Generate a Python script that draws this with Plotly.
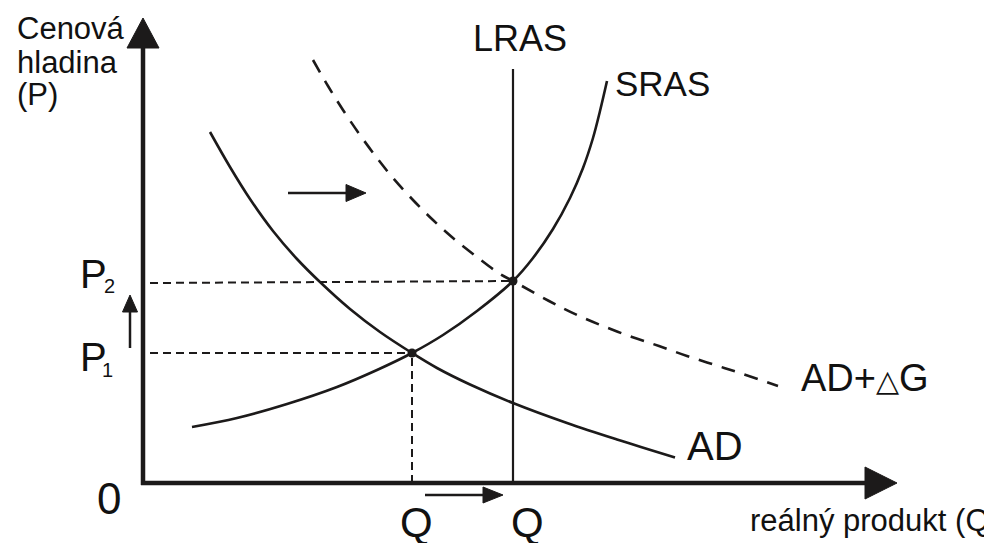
import plotly.graph_objects as go

# ---- data (chart units, origin at the axes' corner) ----
sras_x = [49, 94, 144, 194, 234, 269, 300, 334, 370, 390, 410, 427, 440, 450, 457, 464]
sras_y = [56, 65, 79, 96, 113, 130, 148, 172, 202, 225, 254, 285, 315, 345, 372, 402]

ad_x = [67, 87, 107, 130, 154, 177, 207, 237, 269, 294, 327, 370, 424, 474, 532]
ad_y = [351, 316, 284, 252, 224, 201, 174, 151, 130, 115, 98.5, 80, 60, 43.5, 25.5]

adg_x = [170, 185, 200, 217, 234, 250, 270, 290, 310, 334, 357, 370, 406, 434, 460, 489, 516, 544, 572, 600, 635]
adg_y = [423, 397, 373, 348, 325, 305, 283, 263, 245, 226, 209, 202, 182, 168, 157, 146, 137, 127, 118, 109, 97]

eq_x = [269, 370]   # Q1, Q2
eq_y = [130, 202]   # P1, P2
lras_top = 414
x_axis_end = 754
y_axis_end = 465

FONT = "Liberation Sans, Arial, sans-serif"
INK = "#1c1a1a"

fig = go.Figure()

def line(xs, ys, width=2.5, dash=None, shape="linear"):
    fig.add_trace(go.Scatter(x=xs, y=ys, mode="lines",
                             line=dict(color=INK, width=width, dash=dash, shape=shape,
                                       smoothing=1.0),
                             hoverinfo="skip", showlegend=False))

def tri(xs, ys):
    fig.add_trace(go.Scatter(x=xs + [xs[0]], y=ys + [ys[0]], mode="lines", fill="toself",
                             fillcolor=INK, line=dict(color=INK, width=1),
                             hoverinfo="skip", showlegend=False))

def arrow_h(x0, x1, y, head=20, half=8, width=2.5):
    line([x0, x1 - head + 2], [y, y], width=width)
    tri([x1, x1 - head, x1 - head], [y, y + half, y - half])

def arrow_v(x, y0, y1, head=18, half=7.5, width=2.5):
    line([x, x], [y0, y1 - head + 2], width=width)
    tri([x, x - half, x + half], [y1, y1 - head, y1 - head])

# axes
arrow_v(0, -2, y_axis_end, head=30, half=16, width=4.5)
arrow_h(-2, x_axis_end, 0, head=32, half=16, width=4.5)

# guide lines
line([7, eq_x[1]], [eq_y[1] - 2, eq_y[1]], width=2, dash="8px,5px")
line([7, eq_x[0]], [eq_y[0], eq_y[0]], width=2, dash="8px,5px")
line([eq_x[0], eq_x[0]], [0, eq_y[0]], width=2, dash="8px,5px")

# LRAS
line([eq_x[1], eq_x[1]], [0, lras_top], width=2.2)

# curves
line(sras_x, sras_y, width=2.6, shape="spline")
line(ad_x, ad_y, width=2.6, shape="spline")
line(adg_x, adg_y, width=2.6, dash="14px,10px", shape="spline")

# equilibrium dots
fig.add_trace(go.Scatter(x=eq_x, y=eq_y, mode="markers",
                         marker=dict(color=INK, size=9), hoverinfo="skip", showlegend=False))

# shift arrows
arrow_h(145, 223, 290, head=20, half=8.5)
arrow_v(-13, 135, 188, head=17, half=7.5)
arrow_h(282, 360, -12, head=20, half=8)

def text(x, y, s, size, xanchor="center", yanchor="middle"):
    fig.add_annotation(x=x, y=y, xref="x", yref="y", text=s, showarrow=False,
                       xanchor=xanchor, yanchor=yanchor, borderpad=0,
                       font=dict(family=FONT, size=size, color="#111"))

text(-127, 455, "Cenová", 31, xanchor="left")
text(-127, 421, "hladina", 31, xanchor="left")
text(-127, 389, "(P)", 31, xanchor="left")

text(377, 445, "LRAS", 36)
text(519, 400, "SRAS", 35)
text(572, 37, "AD", 40)
text(657, 105, "AD+<span style='font-size:30px'>△</span>G", 38, xanchor="left")

text(-50, 209, "P", 40)
text(-34, 197, "2", 20)
text(-50, 126, "P", 40)
text(-36, 113, "1", 20)

text(-34, -15, "0", 44)
text(273, -39, "Q", 42)
text(384, -39, "Q", 42)
text(606, -37, "reálný produkt (Q)", 31, xanchor="left")

fig.update_layout(
    width=984, height=543,
    margin=dict(l=0, r=0, t=0, b=0),
    paper_bgcolor="white", plot_bgcolor="white",
    xaxis=dict(range=[-143, 841], visible=False, fixedrange=True),
    yaxis=dict(range=[-60, 483], visible=False, fixedrange=True),
    showlegend=False,
)

fig.write_html("out.html", config={"displayModeBar": False},
               post_script="document.body.style.margin='0';document.body.style.overflow='hidden';")
